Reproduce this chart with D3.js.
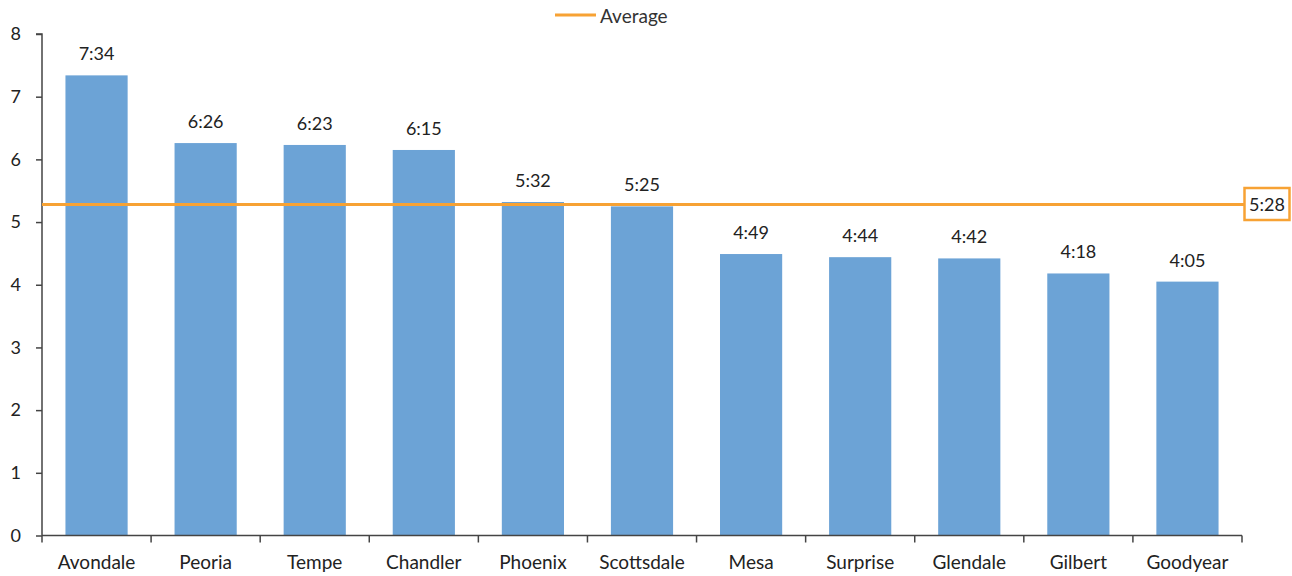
<!DOCTYPE html>
<html><head><meta charset="utf-8">
<script src="https://cdn.jsdelivr.net/npm/d3@7"></script>
<style>body{margin:0;background:#fff}text{font-family:Lato,"Open Sans",sans-serif}</style>
</head><body><svg id="c" width="1292" height="576"></svg>
<script>
const categories=["Avondale","Peoria","Tempe","Chandler","Phoenix","Scottsdale","Mesa","Surprise","Glendale","Gilbert","Goodyear"];
const labels=["7:34","6:26","6:23","6:15","5:32","5:25","4:49","4:44","4:42","4:18","4:05"];
const values=[7.34,6.26,6.23,6.15,5.32,5.25,4.49,4.44,4.42,4.18,4.05];
const averageValue=5.28;
const averageLabel="5:28";
const yTicks=[0,1,2,3,4,5,6,7,8];
const yTickLabels=["0","1","2","3","4","5","6","7","8"];

const svg=d3.select("#c");
const x=d3.scaleBand().domain(categories).range([42,1242]).paddingInner(0.43).paddingOuter(0.215);
const y=d3.scaleLinear().domain([0,8]).range([535.5,34]);
const axisColor="#444";

svg.selectAll("rect.bar").data(values).join("rect").attr("class","bar")
 .attr("x",(d,i)=>x(categories[i])).attr("width",x.bandwidth())
 .attr("y",d=>y(d)).attr("height",d=>y(0)-y(d)).attr("fill","#6CA3D6");

svg.selectAll("text.lbl").data(values).join("text").attr("class","lbl")
 .attr("x",(d,i)=>x(categories[i])+x.bandwidth()/2).attr("y",d=>y(d)-15)
 .attr("text-anchor","middle").attr("font-size",18).attr("fill","#222").text((d,i)=>labels[i]);

// y axis
const ya=svg.append("g").attr("transform","translate(42,0)")
 .call(d3.axisLeft(y).tickValues(yTicks).tickFormat((d,i)=>yTickLabels[i]).tickSize(6).tickPadding(15));
ya.select(".domain").attr("stroke",axisColor).attr("stroke-width",1.5).attr("d","M-6,"+y(8)+"H0V"+y(0));
ya.selectAll(".tick line").attr("stroke",axisColor).attr("stroke-width",1.5);
ya.selectAll(".tick text").attr("font-size",18).attr("fill","#222").attr("font-family","Lato,'Open Sans',sans-serif");

// x axis
const xEdge=d3.scaleLinear().domain([0,categories.length]).range([42,1242]);
const xa=svg.append("g").attr("transform","translate(0,"+y(0)+")")
 .call(d3.axisBottom(x).tickSize(0).tickPadding(20));
xa.select(".domain").attr("stroke",axisColor).attr("stroke-width",1.5).attr("d","M42,0H1242");
xa.selectAll(".tick text").attr("font-size",19).attr("fill","#222").attr("font-family","Lato,'Open Sans',sans-serif");
xa.selectAll("line.edge").data(d3.range(categories.length+1)).join("line").attr("class","edge")
 .attr("x1",d=>xEdge(d)).attr("x2",d=>xEdge(d)).attr("y1",0).attr("y2",7)
 .attr("stroke",axisColor).attr("stroke-width",1.5);

// average
const orange="#F7A234";
svg.append("line").attr("x1",42).attr("x2",1245).attr("y1",y(averageValue)).attr("y2",y(averageValue))
 .attr("stroke",orange).attr("stroke-width",3);
svg.append("rect").attr("x",1244.5).attr("y",y(averageValue)-16.5).attr("width",45).attr("height",32)
 .attr("fill","#fff").attr("stroke",orange).attr("stroke-width",2.5);
svg.append("text").attr("x",1267).attr("y",y(averageValue)+6).attr("text-anchor","middle")
 .attr("font-size",18).attr("fill","#222").text(averageLabel);

// legend
svg.append("line").attr("x1",555).attr("x2",596).attr("y1",15).attr("y2",15).attr("stroke",orange).attr("stroke-width",3);
svg.append("text").attr("x",600).attr("y",23).attr("font-size",19).attr("fill","#333").text("Average");
</script></body></html>
